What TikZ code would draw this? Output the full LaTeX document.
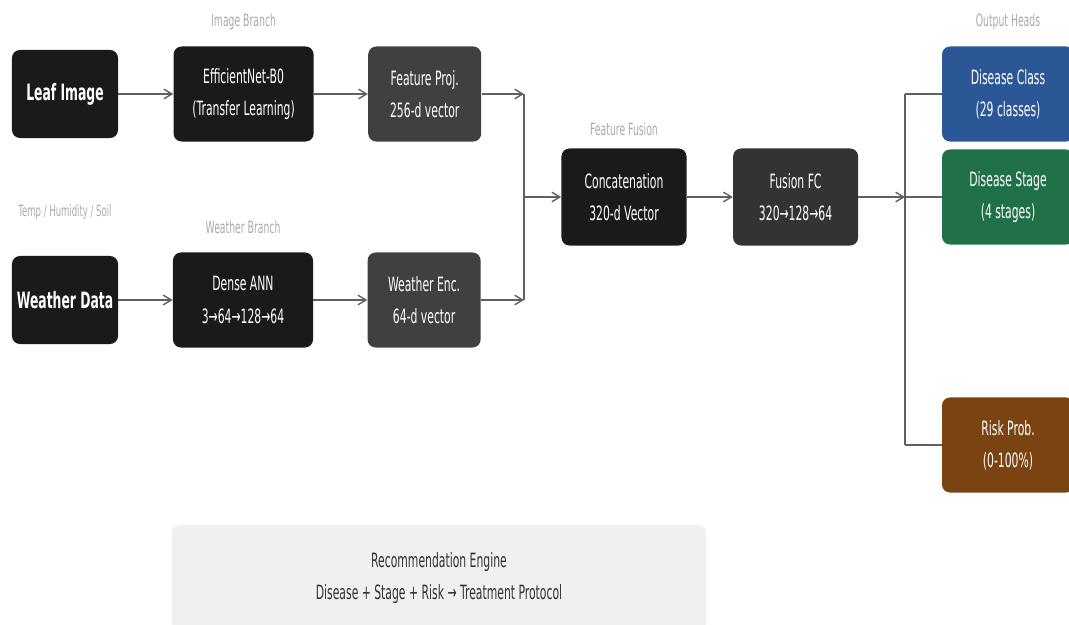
\documentclass[tikz,border=0pt]{standalone}
\usepackage{fontspec}
\setmainfont{DejaVu Sans}[FakeStretch=0.55]
\usetikzlibrary{positioning,arrows.meta}
\definecolor{boxblack}{HTML}{1A1A1A}
\definecolor{boxgrey}{HTML}{404040}
\definecolor{boxfuse}{HTML}{333333}
\definecolor{headblue}{HTML}{2B5797}
\definecolor{headgreen}{HTML}{20704A}
\definecolor{headbrown}{HTML}{7A4312}
\definecolor{enginefill}{HTML}{F0F0F0}
\definecolor{tagtext}{HTML}{AAAAAA}
\definecolor{wiregrey}{HTML}{606060}

\begin{document}
\begin{tikzpicture}[x=0.025cm, y=-0.025cm,
    % styles
    basebox/.style={rectangle, rounded corners=0.2cm, text=white, align=center, inner sep=0pt, font=\fontsize{14}{23}\selectfont},
    inbox/.style={basebox, fill=boxblack, minimum width=2.65cm, minimum height=2.2cm, font=\bfseries\fontsize{16}{20}\selectfont},
    netbox/.style={basebox, fill=boxblack, minimum width=3.5cm, minimum height=2.375cm},
    projbox/.style={basebox, fill=boxgrey, minimum width=2.825cm, minimum height=2.375cm},
    fusebox/.style={basebox, minimum width=3.125cm, minimum height=2.425cm},
    headbox/.style={basebox, minimum width=3.3cm, minimum height=2.375cm},
    tag/.style={text=tagtext, inner sep=0pt, font=\fontsize{12}{14}\selectfont},
    link/.style={draw=wiregrey, line width=1pt, -{Straight Barb[length=2mm, width=2.4mm]}},
    wire/.style={draw=wiregrey, line width=1pt},
    ]
    \useasboundingbox (0,0) rectangle (1069,624);

    % image branch
    \node[inbox]   (leaf)  at (65,94)              {Leaf Image};
    \node[netbox]  (eff)   [right=1.375cm of leaf] {EfficientNet-B0\\(Transfer Learning)};
    \node[projbox] (feat)  [right=1.35cm of eff]   {Feature Proj.\\256-d vector};

    % weather branch
    \node[inbox]   (wdata) at (65,300)             {Weather Data};
    \node[netbox]  (ann)   at (243,300)            {Dense ANN\\3→64→128→64};
    \node[projbox] (wenc)  [right=1.35cm of ann]   {Weather Enc.\\64-d vector};

    % fusion
    \node[fusebox, fill=boxblack] (concat) at (624,197)            {Concatenation\\320-d Vector};
    \node[fusebox, fill=boxfuse]  (fusion) [right=1.15cm of concat] {Fusion FC\\320→128→64};

    % output heads
    \node[headbox, fill=headblue]  (dclass) at (1008,94)  {Disease Class\\(29 classes)};
    \node[headbox, fill=headgreen] (dstage) at (1008,197) {Disease Stage\\(4 stages)};
    \node[headbox, fill=headbrown] (risk)   at (1008,445) {Risk Prob.\\(0-100\%)};

    % recommendation
    \node[basebox, fill=enginefill, text=boxfuse, minimum width=13.35cm, minimum height=2.65cm] (engine) at (439,578)
        {Recommendation Engine\\Disease + Stage + Risk → Treatment Protocol};

    % tags
    \node[tag] [above=0.4cm of eff]     {Image Branch};
    \node[tag] [above=0.45cm of ann]    {Weather Branch};
    \node[tag, font=\fontsize{11}{13}\selectfont] [above=0.9cm of wdata] {Temp / Humidity / Soil};
    \node[tag] [above=0.3cm of concat]  {Feature Fusion};
    \node[tag] [above=0.4cm of dclass]  {Output Heads};

    % junctions
    \coordinate (jin)  at (524,197);
    \coordinate (jout) at (905,197);

    %Lines
    \draw[link] (leaf) -- (eff);
    \draw[link] (eff) -- (feat);
    \draw[link] (wdata) -- (ann);
    \draw[link] (ann) -- (wenc);
    \draw[link] (feat.east) -- (feat.east -| jin);
    \draw[link] (wenc.east) -- (wenc.east -| jin);
    \draw[wire] (feat.east -| jin) -- (wenc.east -| jin);
    \draw[link] (jin) -- (concat);
    \draw[link] (concat) -- (fusion);
    \draw[link] (fusion) -- (jout);
    \draw[wire] (jout |- dclass) -- (jout |- risk);
    \draw[wire] (jout |- dclass) -- (dclass);
    \draw[wire] (jout) -- (dstage);
    \draw[wire] (jout |- risk) -- (risk);
\end{tikzpicture}
\end{document}
